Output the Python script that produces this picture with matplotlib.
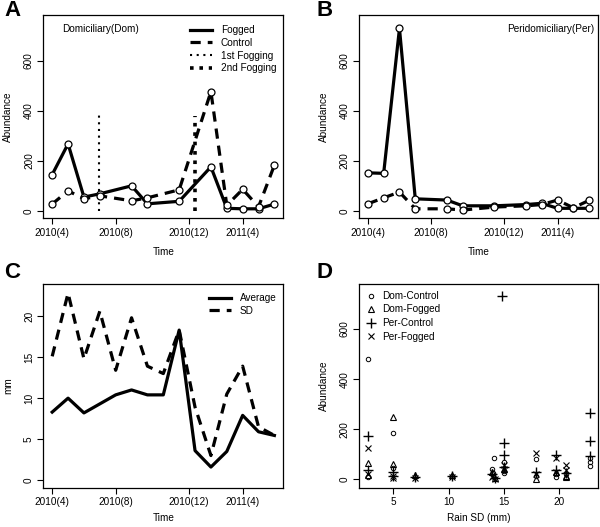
import matplotlib
matplotlib.use("Agg")
import matplotlib.pyplot as plt
from matplotlib.lines import Line2D
import numpy as np

plt.rcParams['font.family'] = ['Liberation Sans', 'DejaVu Sans']

# ---------------- data ----------------
time_ticks = [1, 5, 9.6, 13]
time_labels = ["2010(4)", "2010(8)", "2010(12)", "2011(4)"]

# Panel A: Domiciliary
ab_idx = [1, 2, 3, 4, 6, 7, 9, 11, 12, 13, 14, 15]
dom_fogged = [145, 268, 55, 68, 100, 28, 38, 176, 10, 8, 8, 27]
dom_control = [27, 80, 48, 60, 40, 52, 84, 477, 22, 86, 16, 183]
fog1_x, fog1_top = 3.97, 400
fog2_x, fog2_top = 10.0, 380

# Panel B: Peridomiciliary
per_fogged = [152, 150, 730, 48, 43, 20, 20, 25, 30, 10, 10, 10]
per_control = [28, 52, 75, 8, 8, 3, 15, 20, 25, 43, 12, 42]

# Panel C: rain
c_idx = list(range(1, 16))
rain_avg = [8.3, 10.0, 8.2, 9.3, 10.4, 11.0, 10.4, 10.4, 18.3, 3.6, 1.6, 3.5, 7.9, 5.9, 5.45]
rain_sd = [15.1, 22.8, 14.8, 20.6, 13.4, 19.8, 13.9, 13.0, 18.3, 8.9, 3.0, 10.5, 13.9, 6.5, 5.45]

# Panel D: abundance vs rain SD
dc_x = [2.7, 2.7, 5.0, 5.0, 7.0, 10.3, 13.9, 14.1, 14.0, 15.0, 15.0, 15.0, 17.9, 17.9, 19.7, 19.7, 20.6, 22.8, 22.8, 22.8]
dc_y = [480, 10, 183, 45, 8, 15, 40, 84, 25, 70, 35, 25, 81, 15, 20, 10, 20, 85, 70, 55]
df_x = [2.7, 2.7, 5.0, 5.0, 7.0, 10.3, 13.9, 14.2, 15.0, 17.9, 19.7, 20.6, 20.6]
df_y = [65, 17, 250, 60, 18, 18, 30, 5, 40, 3, 28, 15, 8]
pc_x = [2.7, 2.7, 5.0, 5.0, 7.0, 10.3, 13.9, 14.2, 14.8, 15.0, 15.0, 15.0, 17.9, 19.7, 19.7, 20.6, 22.8, 22.8, 22.8]
pc_y = [174, 37, 30, 12, 8, 12, 20, 5, 730, 146, 97, 50, 30, 97, 37, 25, 266, 154, 93]
pf_x = [2.7, 2.7, 5.0, 5.0, 7.0, 10.3, 13.9, 14.2, 15.0, 15.0, 17.9, 17.9, 19.7, 19.7, 20.6, 20.6]
pf_y = [124, 20, 15, 5, 5, 10, 10, 3, 57, 40, 106, 20, 84, 30, 57, 37]

# ---------------- style ----------------
FS = 7.2
LW = 2.3
DASH = (3.2, 2.2)
W, H = 600, 527

fig = plt.figure(figsize=(W / 100, H / 100), dpi=100)

def rect(l, t, r, b):
    return [l / W, 1 - b / H, (r - l) / W, (b - t) / H]

def style(ax):
    for s in ax.spines.values():
        s.set_linewidth(0.9)
    ax.tick_params(direction='out', length=4.2, width=0.8, labelsize=FS, pad=2.5)

def time_axis(ax, pad):
    ax.set_xlim(0.44, 15.56)
    ax.set_xticks(time_ticks)
    ax.set_xticklabels(time_labels)
    ax.set_xlabel("Time", fontsize=FS, labelpad=pad)

def yrot(ax):
    for lab in ax.get_yticklabels():
        lab.set_rotation(90)
        lab.set_va('center')

mk = dict(marker='o', markersize=5, markerfacecolor='white', markeredgecolor='black', markeredgewidth=0.9)

# ---------------- A ----------------
axA = fig.add_axes(rect(43.3, 15, 283.3, 218.3))
style(axA)
axA.plot(ab_idx, dom_fogged, color='black', lw=LW, solid_capstyle='butt', zorder=3, **mk)
axA.plot(ab_idx, dom_control, color='black', lw=LW, dashes=DASH, zorder=3, **mk)
axA.plot([fog1_x, fog1_x], [0, fog1_top], color='black', lw=1.5, linestyle=(0, (1, 2.2)))
axA.plot([fog2_x, fog2_x], [0, fog2_top], color='black', lw=2.6, linestyle=(0, (1, 1.6)))
time_axis(axA, 7)
axA.set_ylim(-30, 784)
axA.set_yticks([0, 200, 400, 600])
axA.set_ylabel("Abundance", fontsize=FS, labelpad=8)
yrot(axA)
axA.text(0.08, 0.93, "Domiciliary(Dom)", transform=axA.transAxes, fontsize=FS, va='center', ha='left')
handles = [Line2D([], [], color='black', lw=LW),
           Line2D([], [], color='black', lw=LW, dashes=DASH),
           Line2D([], [], color='black', lw=1.5, linestyle=(0, (1, 2.2))),
           Line2D([], [], color='black', lw=2.6, linestyle=(0, (1, 1.6)))]
axA.legend(handles, ["Fogged", "Control", "1st Fogging", "2nd Fogging"], loc='upper right',
           bbox_to_anchor=(1.0, 0.985), frameon=False, fontsize=FS, handlelength=2.2,
           handletextpad=0.9, labelspacing=0.28, borderaxespad=0.3)
fig.text(4 / W, 1 - 10 / H, "A", fontsize=16, fontweight='bold', va='center', ha='left')

# ---------------- B ----------------
axB = fig.add_axes(rect(359, 15, 598, 218.3))
style(axB)
axB.plot(ab_idx, per_fogged, color='black', lw=LW, zorder=3, **mk)
axB.plot(ab_idx, per_control, color='black', lw=LW, dashes=DASH, zorder=3, **mk)
time_axis(axB, 7)
axB.set_ylim(-30, 784)
axB.set_yticks([0, 200, 400, 600])
axB.set_ylabel("Abundance", fontsize=FS, labelpad=8)
yrot(axB)
axB.text(0.985, 0.93, "Peridomiciliary(Per)", transform=axB.transAxes, fontsize=FS, va='center', ha='right')
fig.text(317 / W, 1 - 10 / H, "B", fontsize=16, fontweight='bold', va='center', ha='left')

# ---------------- C ----------------
axC = fig.add_axes(rect(43.3, 284, 283.3, 487.7))
style(axC)
axC.plot(c_idx, rain_avg, color='black', lw=LW, label="Average")
axC.plot(c_idx, rain_sd, color='black', lw=LW, dashes=DASH, label="SD")
time_axis(axC, 4)
axC.set_ylim(-0.92, 23.92)
axC.set_yticks([0, 5, 10, 15, 20])
axC.set_ylabel("mm", fontsize=FS, labelpad=8)
yrot(axC)
axC.legend(loc='upper right', bbox_to_anchor=(1.0, 0.99), frameon=False, fontsize=FS,
           handlelength=2.2, handletextpad=0.9, labelspacing=0.28, borderaxespad=0.3)
fig.text(4 / W, 1 - 273 / H, "C", fontsize=16, fontweight='bold', va='center', ha='left')

# ---------------- D ----------------
axD = fig.add_axes(rect(359, 284, 597.7, 487.7))
style(axD)
axD.plot(dc_x, dc_y, linestyle='none', marker='o', markersize=3.2, markerfacecolor='none',
         markeredgecolor='black', markeredgewidth=0.7, label="Dom-Control")
axD.plot(df_x, df_y, linestyle='none', marker='^', markersize=5, markerfacecolor='none',
         markeredgecolor='black', markeredgewidth=0.8, label="Dom-Fogged")
axD.plot(pc_x, pc_y, linestyle='none', marker='+', markersize=7, markeredgecolor='black',
         markeredgewidth=1.0, label="Per-Control")
axD.plot(pf_x, pf_y, linestyle='none', marker='x', markersize=4.5, markeredgecolor='black',
         markeredgewidth=0.8, label="Per-Fogged")
axD.set_xlim(1.9, 23.5)
axD.set_ylim(-33.5, 779.6)
axD.set_xticks([5, 10, 15, 20])
axD.set_yticks([0, 200, 400, 600])
axD.set_xlabel("Rain SD (mm)", fontsize=FS, labelpad=4)
axD.set_ylabel("Abundance", fontsize=FS, labelpad=8)
yrot(axD)
axD.legend(loc='upper left', frameon=False, fontsize=FS, handlelength=1.0, handletextpad=0.6,
           labelspacing=0.35, borderaxespad=0.3)
fig.text(317 / W, 1 - 273 / H, "D", fontsize=16, fontweight='bold', va='center', ha='left')

fig.savefig("out.png", dpi=100)
